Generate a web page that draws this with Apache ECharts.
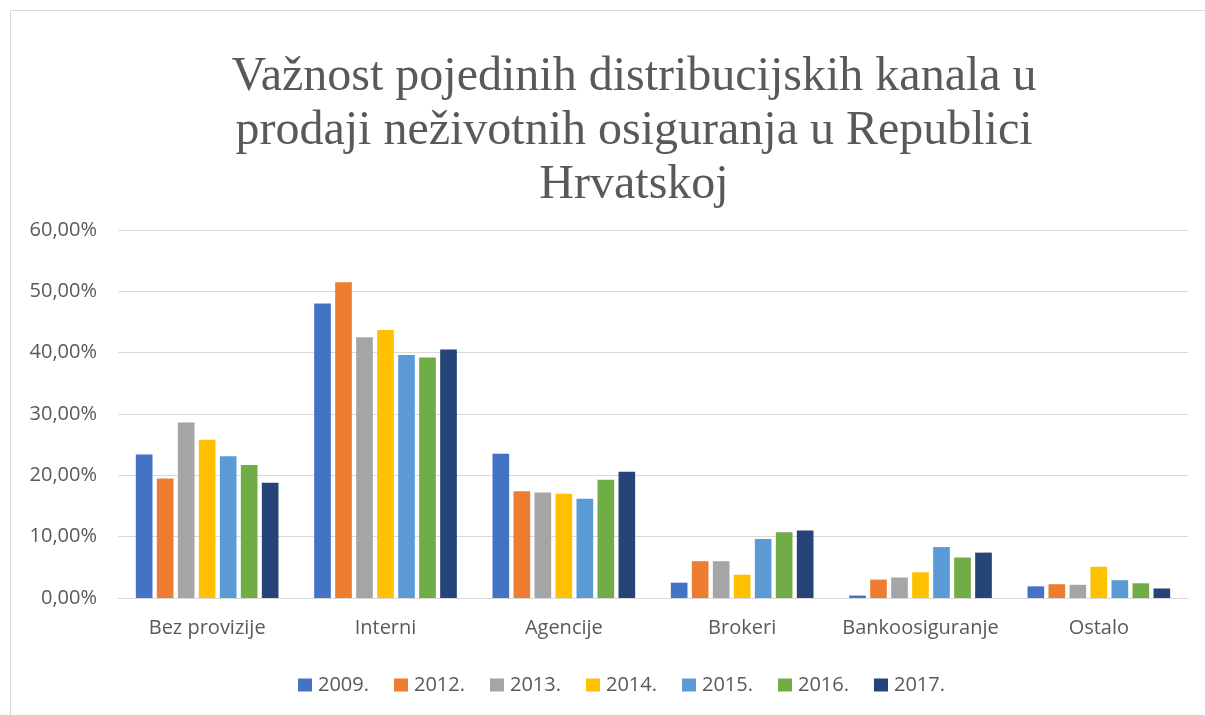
<!DOCTYPE html>
<html><head><meta charset="utf-8">
<script src="https://cdn.jsdelivr.net/npm/echarts@6/dist/echarts.min.js"></script>
<style>
html,body{margin:0;padding:0;background:#fff;}
#frame{position:absolute;left:10px;top:10px;width:1200px;height:710px;border:1px solid #d9d9d9;box-sizing:border-box;}
#c{position:absolute;left:0;top:0;width:1205px;height:715px;}
</style></head>
<body>
<div id="frame"></div>
<div id="c"></div>
<script>
const categories = ['Bez provizije','Interni','Agencije','Brokeri','Bankoosiguranje','Ostalo'];
const years = ['2009.','2012.','2013.','2014.','2015.','2016.','2017.'];
const v2009 = [23.4, 48.0, 23.5, 2.5, 0.4, 1.9];
const v2012 = [19.5, 51.5, 17.4, 6.0, 3.0, 2.25];
const v2013 = [28.6, 42.5, 17.2, 6.0, 3.35, 2.15];
const v2014 = [25.8, 43.7, 17.0, 3.8, 4.2, 5.1];
const v2015 = [23.1, 39.6, 16.2, 9.6, 8.3, 2.9];
const v2016 = [21.7, 39.2, 19.3, 10.7, 6.6, 2.4];
const v2017 = [18.8, 40.5, 20.6, 11.0, 7.4, 1.55];
const seriesValues = [v2009, v2012, v2013, v2014, v2015, v2016, v2017];
const colors = ['#4472C4','#ED7D31','#A5A5A5','#FFC000','#5B9BD5','#70AD47','#264478'];
const titleText = 'Važnost pojedinih distribucijskih kanala u\nprodaji neživotnih osiguranja u Republici\nHrvatskoj';

const chart = echarts.init(document.getElementById('c'));
chart.setOption({
  animation:false,
  color: colors,
  title:{
    text: titleText,
    left: 629, top: 45, textAlign:'center',
    textStyle:{fontFamily:'Liberation Serif', fontSize:48, fontWeight:'normal', color:'#595959', lineHeight:54}
  },
  grid:{left:118, right:17, top:230, bottom:117, containLabel:false},
  legend:{
    top:670, left:293,
    itemWidth:14, itemHeight:13, itemGap:25,
    icon:'rect',
    textStyle:{fontFamily:'Open Sans', fontSize:20, color:'#595959', padding:[0,0,0,1]},
    data: years
  },
  xAxis:{
    type:'category', data:categories,
    axisLine:{lineStyle:{color:'#d9d9d9', width:1}},
    axisTick:{show:false},
    axisLabel:{fontFamily:'Open Sans', fontSize:20, color:'#595959', margin:20, interval:0}
  },
  yAxis:{
    type:'value', min:0, max:60, interval:10,
    axisLine:{show:false}, axisTick:{show:false},
    splitLine:{lineStyle:{color:'#d9d9d9', width:1}},
    axisLabel:{fontFamily:'Open Sans', fontSize:20, color:'#595959', margin:21,
      formatter: v => v.toFixed(2).replace('.', ',') + '%'}
  },
  series: years.map((y,i)=>({
    name:y, type:'bar', data:seriesValues[i],
    barGap:'26%', barCategoryGap:'20%'
  }))
});
</script>
</body></html>
